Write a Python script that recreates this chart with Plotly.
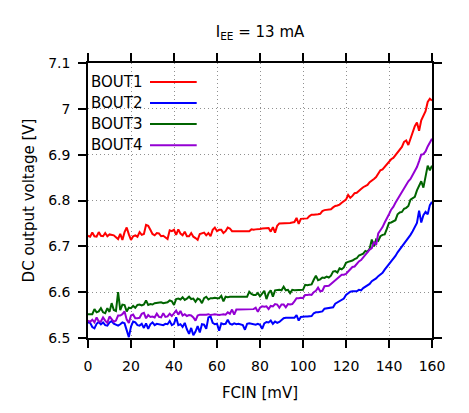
import plotly.graph_objects as go

fcin = list(range(0, 161))

bout1 = [
    6.723, 6.721, 6.730, 6.722, 6.721, 6.731, 6.723, 6.722, 6.729, 6.722,
    6.726, 6.725, 6.724, 6.720, 6.716, 6.727, 6.714, 6.731, 6.741, 6.726,
    6.714, 6.722, 6.724, 6.721, 6.731, 6.725, 6.727, 6.747, 6.745, 6.736,
    6.727, 6.724, 6.729, 6.728, 6.722, 6.723, 6.720, 6.716, 6.735, 6.733,
    6.736, 6.725, 6.737, 6.728, 6.724, 6.732, 6.722, 6.722, 6.729, 6.721,
    6.718, 6.714, 6.727, 6.729, 6.730, 6.724, 6.729, 6.722, 6.736, 6.741,
    6.733, 6.736, 6.736, 6.729, 6.733, 6.741, 6.739, 6.733, 6.733, 6.733,
    6.733, 6.733, 6.733, 6.733, 6.733, 6.733, 6.737, 6.736, 6.737, 6.737,
    6.738, 6.739, 6.739, 6.739, 6.740, 6.732, 6.742, 6.730, 6.745, 6.750,
    6.750, 6.751, 6.751, 6.751, 6.751, 6.752, 6.753, 6.762, 6.749, 6.760,
    6.760, 6.761, 6.761, 6.766, 6.769, 6.769, 6.769, 6.770, 6.771, 6.777,
    6.779, 6.780, 6.780, 6.781, 6.785, 6.788, 6.789, 6.791, 6.795, 6.799,
    6.802, 6.812, 6.806, 6.810, 6.816, 6.817, 6.822, 6.825, 6.829, 6.831,
    6.834, 6.840, 6.843, 6.847, 6.851, 6.860, 6.866, 6.868, 6.874, 6.880,
    6.886, 6.890, 6.893, 6.899, 6.905, 6.911, 6.917, 6.928, 6.931, 6.921,
    6.934, 6.950, 6.962, 6.970, 6.952, 6.975, 6.985, 6.995, 7.015, 7.022,
    7.018,
]

bout2 = [
    6.534, 6.533, 6.524, 6.521, 6.531, 6.535, 6.530, 6.534, 6.528, 6.527,
    6.534, 6.537, 6.531, 6.529, 6.527, 6.530, 6.534, 6.532, 6.515, 6.502,
    6.525, 6.536, 6.534, 6.528, 6.527, 6.531, 6.522, 6.532, 6.520, 6.530,
    6.534, 6.528, 6.531, 6.530, 6.529, 6.528, 6.531, 6.530, 6.537, 6.528,
    6.531, 6.545, 6.528, 6.530, 6.524, 6.533, 6.519, 6.509, 6.522, 6.506,
    6.514, 6.526, 6.512, 6.530, 6.529, 6.520, 6.545, 6.547, 6.533, 6.530,
    6.531, 6.516, 6.532, 6.530, 6.531, 6.540, 6.531, 6.529, 6.532, 6.530,
    6.531, 6.530, 6.528, 6.518, 6.531, 6.532, 6.531, 6.530, 6.529, 6.531,
    6.529, 6.520, 6.532, 6.535, 6.534, 6.538, 6.531, 6.536, 6.533, 6.535,
    6.540, 6.543, 6.544, 6.544, 6.544, 6.545, 6.544, 6.550, 6.538, 6.546,
    6.547, 6.547, 6.547, 6.548, 6.548, 6.554, 6.556, 6.556, 6.557, 6.558,
    6.564, 6.565, 6.565, 6.566, 6.567, 6.575, 6.578, 6.580, 6.584, 6.586,
    6.594, 6.598, 6.601, 6.602, 6.602, 6.602, 6.605, 6.604, 6.609, 6.612,
    6.614, 6.618, 6.624, 6.627, 6.630, 6.635, 6.638, 6.642, 6.649, 6.655,
    6.662, 6.668, 6.672, 6.679, 6.687, 6.693, 6.700, 6.706, 6.712, 6.718,
    6.725, 6.733, 6.742, 6.751, 6.778, 6.752, 6.768, 6.775, 6.770, 6.790,
    6.797,
]

bout3 = [
    6.552, 6.552, 6.552, 6.563, 6.556, 6.558, 6.565, 6.556, 6.554, 6.565,
    6.557, 6.576, 6.561, 6.559, 6.600, 6.561, 6.573, 6.572, 6.558, 6.566,
    6.565, 6.570, 6.566, 6.572, 6.573, 6.571, 6.573, 6.582, 6.572, 6.574,
    6.573, 6.576, 6.577, 6.577, 6.578, 6.576, 6.577, 6.578, 6.582, 6.580,
    6.572, 6.585, 6.586, 6.584, 6.589, 6.583, 6.586, 6.590, 6.585, 6.586,
    6.579, 6.586, 6.584, 6.576, 6.587, 6.590, 6.584, 6.587, 6.587, 6.588,
    6.587, 6.587, 6.592, 6.580, 6.590, 6.589, 6.590, 6.590, 6.590, 6.591,
    6.590, 6.590, 6.590, 6.591, 6.590, 6.601, 6.596, 6.594, 6.594, 6.598,
    6.591, 6.597, 6.603, 6.585, 6.598, 6.604, 6.590, 6.604, 6.605, 6.605,
    6.604, 6.612, 6.604, 6.605, 6.598, 6.605, 6.604, 6.604, 6.605, 6.604,
    6.605, 6.616, 6.615, 6.616, 6.617, 6.627, 6.636, 6.626, 6.628, 6.632,
    6.631, 6.634, 6.632, 6.636, 6.645, 6.646, 6.643, 6.652, 6.650, 6.654,
    6.664, 6.666, 6.667, 6.669, 6.672, 6.674, 6.680, 6.682, 6.684, 6.690,
    6.688, 6.695, 6.715, 6.700, 6.715, 6.712, 6.722, 6.725, 6.726, 6.738,
    6.751, 6.752, 6.754, 6.757, 6.770, 6.774, 6.775, 6.782, 6.784, 6.788,
    6.802, 6.806, 6.808, 6.822, 6.831, 6.842, 6.828, 6.850, 6.876, 6.866,
    6.876,
]

bout4 = [
    6.538, 6.535, 6.540, 6.534, 6.545, 6.536, 6.536, 6.545, 6.538, 6.533,
    6.547, 6.540, 6.535, 6.538, 6.549, 6.549, 6.552, 6.558, 6.540, 6.533,
    6.549, 6.551, 6.543, 6.543, 6.544, 6.553, 6.555, 6.543, 6.550, 6.546,
    6.547, 6.545, 6.553, 6.546, 6.545, 6.554, 6.546, 6.547, 6.553, 6.548,
    6.555, 6.560, 6.551, 6.559, 6.549, 6.552, 6.548, 6.550, 6.549, 6.545,
    6.538, 6.549, 6.551, 6.551, 6.550, 6.551, 6.552, 6.550, 6.551, 6.552,
    6.551, 6.550, 6.551, 6.552, 6.551, 6.556, 6.553, 6.562, 6.551, 6.562,
    6.562, 6.562, 6.562, 6.562, 6.562, 6.563, 6.563, 6.563, 6.566, 6.557,
    6.566, 6.569, 6.568, 6.569, 6.563, 6.570, 6.569, 6.574, 6.573, 6.566,
    6.573, 6.573, 6.567, 6.574, 6.573, 6.574, 6.580, 6.587, 6.587, 6.588,
    6.587, 6.594, 6.594, 6.595, 6.594, 6.600, 6.603, 6.610, 6.602, 6.603,
    6.613, 6.613, 6.614, 6.618, 6.622, 6.625, 6.628, 6.632, 6.638, 6.638,
    6.640, 6.645, 6.650, 6.655, 6.656, 6.662, 6.667, 6.670, 6.676, 6.680,
    6.686, 6.693, 6.696, 6.710, 6.703, 6.728, 6.735, 6.742, 6.752, 6.760,
    6.770, 6.780, 6.786, 6.795, 6.803, 6.813, 6.818, 6.826, 6.835, 6.842,
    6.847, 6.855, 6.862, 6.873, 6.886, 6.900, 6.901, 6.907, 6.918, 6.928,
    6.935,
]

series_names = ["BOUT1", "BOUT2", "BOUT3", "BOUT4"]
series_values = [bout1, bout2, bout3, bout4]
series_colors = ["#ff0000", "#0000ff", "#006400", "#9400d3"]

x_ticks = [0, 20, 40, 60, 80, 100, 120, 140, 160]
y_ticks = [6.5, 6.6, 6.7, 6.8, 6.9, 7.0, 7.1]
y_ticktext = ["6.5", "6.6", "6.7", "6.8", "6.9", "7", "7.1"]

title_text = "I<sub>EE</sub> = 13 mA"
x_title = "FCIN [mV]"
y_title = "DC output voltage [V]"

# page is shown with the browser's default 8px body margin
OFF = 8
PAGE_W, PAGE_H = 469, 413
W, H = PAGE_W - OFF, PAGE_H - OFF
PL, PR, PT, PB = 88, 432, 63, 338      # plot area in page pixels
L, T = PL - OFF, PT - OFF
R, B = PAGE_W - PR, PAGE_H - PB
FONT = "DejaVu Sans"


def px(xp, yp):
    """page pixel -> paper coordinates"""
    return (xp - PL) / (PR - PL), (PB - yp) / (PB - PT)


fig = go.Figure()
for name, vals, col in zip(series_names, series_values, series_colors):
    fig.add_trace(go.Scatter(x=fcin, y=vals, mode="lines", name=name,
                             line=dict(color=col, width=2), showlegend=False))

axis_common = dict(
    showline=True, linecolor="black", linewidth=1.5, mirror="ticks",
    ticks="outside", ticklen=8, tickwidth=1.5, tickcolor="black",
    showgrid=True, gridcolor="#909090", gridwidth=1, griddash="1px,3px",
    zeroline=False, tickfont=dict(family=FONT, size=14, color="black"),
)

fig.update_xaxes(range=[0, 160], tickvals=x_ticks, ticklabelstandoff=6,
                 title=dict(text=x_title, font=dict(family=FONT, size=15, color="black"),
                            standoff=15),
                 **axis_common)
fig.update_yaxes(range=[6.5, 7.1], tickvals=y_ticks, ticktext=y_ticktext,
                 ticklabelstandoff=5,
                 title=dict(text=y_title, font=dict(family=FONT, size=15, color="black"),
                            standoff=10),
                 **axis_common)

# opaque key box (hides grid behind legend)
x0, y0 = px(95, 156)
x1, y1 = px(203, 71)
fig.add_shape(type="rect", xref="paper", yref="paper", x0=x0, x1=x1, y0=y0, y1=y1,
              fillcolor="white", line=dict(width=0), layer="between")

# key entries: text then sample line (gnuplot style)
key_ys = [82, 103, 124, 145.3]
for name, col, ky in zip(series_names, series_colors, key_ys):
    tx, ty = px(89, ky)
    fig.add_annotation(xref="paper", yref="paper", x=tx, y=ty, text=name,
                       showarrow=False, xanchor="left", yanchor="middle",
                       font=dict(family=FONT, size=15, color="black"))
    lx0, ly = px(150, ky)
    lx1, _ = px(196.7, ky)
    fig.add_shape(type="line", xref="paper", yref="paper", x0=lx0, x1=lx1, y0=ly, y1=ly,
                  line=dict(color=col, width=2))

fig.update_layout(
    width=W, height=H,
    margin=dict(l=L, r=R, t=T, b=B, pad=0),
    paper_bgcolor="white", plot_bgcolor="white",
    font=dict(family=FONT, size=14, color="black"),
    title=dict(text=title_text, x=((PL + PR) / 2 - OFF) / W, xanchor="center",
               y=1 - (32 - OFF) / H, yanchor="middle", yref="container",
               font=dict(family=FONT, size=15, color="black")),
)

fig.write_html("out.html")
